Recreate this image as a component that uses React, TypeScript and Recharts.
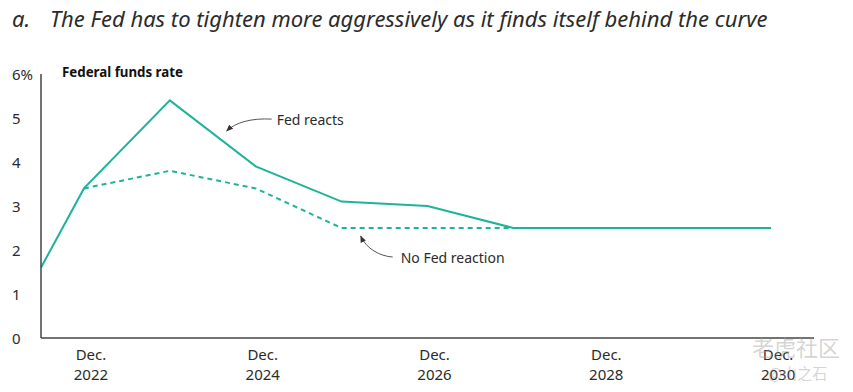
import { LineChart, Line, XAxis, YAxis, ReferenceDot } from 'recharts'

// x = year of December reading (first point is mid-2022)
const periods = [2021.5, 2022, 2023, 2024, 2025, 2026, 2027, 2028, 2029, 2030]
const fedReacts = [1.6, 3.4, 5.4, 3.9, 3.1, 3.0, 2.5, 2.5, 2.5, 2.5]
const noFedReaction = [null, 3.4, 3.8, 3.4, 2.5, 2.5, 2.5, 2.5, 2.5, 2.5]
const xTicks = [2022, 2024, 2026, 2028, 2030]
const yTicks = [0, 1, 2, 3, 4, 5, 6]

const TEAL = '#1fb39b'
const TEXT = '#2b2b2b'
const FONT = '"Noto Sans", sans-serif'

const data = periods.map((x, i) => ({ x, fed: fedReacts[i], noFed: noFedReaction[i] }))

const XTick = ({ x, y, payload }: any) => (
  <g transform={`translate(${x + 7},${y})`}>
    <text textAnchor="middle" y={14} fill={TEXT} fontSize={15} fontFamily={FONT}>
      Dec.
    </text>
    <text textAnchor="middle" y={34} fill={TEXT} fontSize={15} fontFamily={FONT}>
      {payload.value}
    </text>
  </g>
)

const YTick = ({ y, payload }: any) => (
  <text x={12} y={y} dy={6} textAnchor="start" fill={TEXT} fontSize={15} fontFamily={FONT}>
    {payload.value === 6 ? '6%' : payload.value}
  </text>
)

const Marker = ({ id }: { id: string }) => (
  <defs>
    <marker id={id} viewBox="0 0 10 10" refX={9} refY={5} markerWidth={7} markerHeight={7}
      markerUnits="userSpaceOnUse" orient="auto">
      <path d="M0,1 L10,5 L0,9 z" fill="#333" />
    </marker>
  </defs>
)

const FedReactsNote = ({ cx, cy }: any) => (
  <g>
    <Marker id="arrA" />
    <path
      d={`M${cx + 46},${cy - 13} C${cx + 26},${cy - 14} ${cx + 10},${cy - 10} ${cx + 1},${cy - 1}`}
      fill="none" stroke="#555" strokeWidth={1} markerEnd="url(#arrA)"
    />
    <text x={cx + 51} y={cy - 7} fill={TEXT} fontSize={14} fontFamily={FONT}>Fed reacts</text>
  </g>
)

const NoFedNote = ({ cx, cy }: any) => (
  <g>
    <Marker id="arrB" />
    <path
      d={`M${cx + 33},${cy + 22} C${cx + 20},${cy + 21} ${cx + 7},${cy + 14} ${cx + 1},${cy + 1}`}
      fill="none" stroke="#555" strokeWidth={1} markerEnd="url(#arrB)"
    />
    <text x={cx + 41} y={cy + 28} fill={TEXT} fontSize={14} fontFamily={FONT}>No Fed reaction</text>
  </g>
)

export default function App() {
  return (
    <div style={{ position: 'absolute', left: 0, top: 0, width: 853, height: 392, background: '#fff' }}>
      <div style={{ position: 'absolute', left: 12, top: 3, fontFamily: FONT, fontStyle: 'italic', fontSize: 22, color: TEXT, whiteSpace: 'nowrap' }}>
        <span style={{ display: 'inline-block', width: 38 }}>a.</span>
        The Fed has to tighten more aggressively as it finds itself behind the curve
      </div>
      <div style={{ position: 'absolute', left: 62, top: 63, fontFamily: FONT, fontWeight: 700, fontSize: 13.3, color: '#111', whiteSpace: 'nowrap' }}>
        Federal funds rate
      </div>
      <LineChart width={853} height={392} data={data} margin={{ top: 74, right: 39, bottom: 0, left: 11 }}>
        <XAxis
          dataKey="x"
          type="number"
          domain={[2021.5, 2030.5]}
          ticks={xTicks}
          tick={<XTick />}
          tickLine={false}
          axisLine={{ stroke: '#444', strokeWidth: 1.5 }}
          height={54}
          interval={0}
        />
        <YAxis
          domain={[0, 6]}
          ticks={yTicks}
          tick={<YTick />}
          tickLine={false}
          axisLine={{ stroke: '#444', strokeWidth: 1.5 }}
          width={30}
          interval={0}
        />
        <Line type="linear" dataKey="noFed" stroke={TEAL} strokeWidth={2} strokeDasharray="5 4" dot={false} isAnimationActive={false} />
        <Line type="linear" dataKey="fed" stroke={TEAL} strokeWidth={2} dot={false} isAnimationActive={false} />
        <ReferenceDot x={2023.65} y={4.68} r={0} shape={<FedReactsNote />} />
        <ReferenceDot x={2025.21} y={2.34} r={0} shape={<NoFedNote />} />
      </LineChart>
      <div style={{ position: 'absolute', left: 752, top: 330, fontFamily: '"Noto Sans CJK SC", sans-serif', fontSize: 22, color: 'rgba(160,160,160,0.45)', whiteSpace: 'nowrap' }}>
        老虎社区
      </div>
      <div style={{ position: 'absolute', left: 768, top: 362, fontFamily: '"Noto Sans CJK SC", sans-serif', fontSize: 15, color: 'rgba(160,160,160,0.45)', whiteSpace: 'nowrap' }}>
        @山之石
      </div>
    </div>
  )
}
